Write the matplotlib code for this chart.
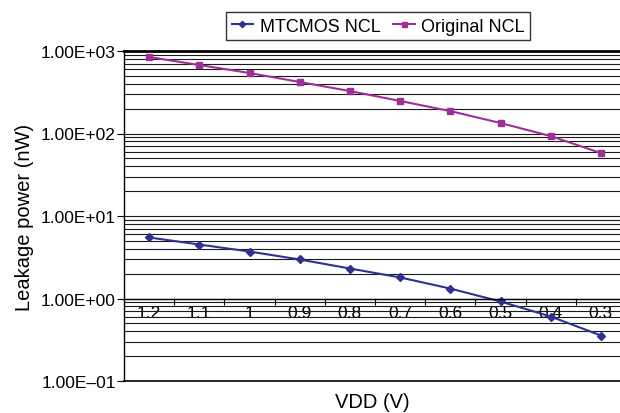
import matplotlib
matplotlib.use("Agg")
import matplotlib.pyplot as plt
from matplotlib.ticker import FixedLocator, FixedFormatter, NullFormatter, LogLocator

plt.rcParams['font.family'] = ['Liberation Sans', 'DejaVu Sans']

vdd_labels = ["1.2", "1.1", "1", "0.9", "0.8", "0.7", "0.6", "0.5", "0.4", "0.3"]
mtcmos = [5.49, 4.51, 3.71, 2.97, 2.31, 1.80, 1.32, 0.92, 0.605, 0.356]
original = [845, 676, 541, 421, 327, 248, 187, 134, 93, 58]
ytick_values = [0.1, 1, 10, 100, 1000]
ytick_labels = ["1.00E\u201301", "1.00E+00", "1.00E+01", "1.00E+02", "1.00E+03"]

fig = plt.figure(figsize=(6.2, 4.14), dpi=100)
ax = fig.add_axes([124/620, 32/414, 502/620, 330/414])

x = list(range(len(vdd_labels)))
l1, = ax.plot(x, mtcmos, color='#2E3192', marker='D', markersize=4, lw=1.5,
              label='MTCMOS NCL')
l2, = ax.plot(x, original, color='#9E2F96', marker='s', markersize=4.5, lw=1.5,
              label='Original NCL')

ax.set_yscale('log')
ax.set_ylim(0.1, 1000)
ax.set_xlim(-0.5, len(x) - 0.5)

ax.yaxis.set_major_locator(FixedLocator(ytick_values))
ax.yaxis.set_major_formatter(FixedFormatter(ytick_labels))
ax.yaxis.set_minor_locator(LogLocator(base=10, subs=range(2, 10)))
ax.yaxis.set_minor_formatter(NullFormatter())
ax.tick_params(axis='y', which='major', length=5, width=0.8, labelsize=12.5, pad=1)
ax.tick_params(axis='y', which='minor', length=0)
ax.yaxis.grid(True, which='both', color='#1a1a1a', lw=0.8)

# category axis crossing at 1.0
ax.spines['bottom'].set_position(('data', 1))
ax.set_xticks(x)
ax.set_xticklabels(vdd_labels)
ax.set_xticks([i + 0.5 for i in range(-1, len(x))], minor=True)
ax.tick_params(axis='x', which='major', length=0, labelsize=12.5, pad=5)
ax.tick_params(axis='x', which='minor', length=4, width=0.8, direction='out')
ax.axhline(0.1, color='black', lw=1.2, clip_on=False)

for s in ax.spines.values():
    s.set_linewidth(1.0)
    s.set_color('black')
ax.spines['top'].set_linewidth(2.0)

ax.set_ylabel('Leakage power (nW)', fontsize=14.5, labelpad=5)
fig.text(372/620, 1 - 403/414, 'VDD (V)', fontsize=14.5, ha='center', va='center')

leg = fig.legend(handles=[l1, l2], loc='center', bbox_to_anchor=(378/620, 1 - 27/414),
                 ncol=2, frameon=True, fancybox=False, edgecolor='black',
                 fontsize=13, handlelength=1.2, handletextpad=0.35, columnspacing=0.7,
                 borderpad=0.3, markerscale=0.8)
leg.get_frame().set_linewidth(1.0)

fig.savefig('out.png', dpi=100)
